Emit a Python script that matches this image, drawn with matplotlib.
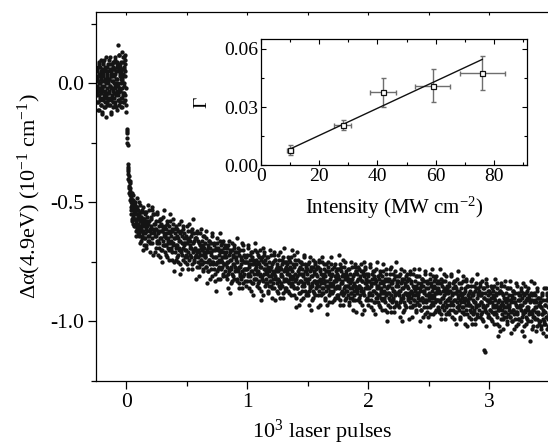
import numpy as np
import matplotlib
matplotlib.use("Agg")
import matplotlib.pyplot as plt
from matplotlib.ticker import MultipleLocator, FormatStrFormatter

plt.rcParams['font.family'] = ['Liberation Serif', 'DejaVu Serif']
plt.rcParams['mathtext.fontset'] = 'custom'
plt.rcParams['mathtext.rm'] = 'Liberation Serif'
plt.rcParams['mathtext.default'] = 'regular'
plt.rcParams['axes.unicode_minus'] = False

# ---------------------------------------------------------------
# data: absorption change vs number of pulses (10^3 pulses)
# two interleaved read-outs of the same scatter cloud
# ---------------------------------------------------------------
# before irradiation, x from -0.245 to -0.005
pre_y = [
    .02, -.05, .06, -.01, -.08, .03, -.03, .09, -.11, .00, .04, -.06, .07, -.02, -.09, .05, -.04, .01, -.13, .03,
    -.02, .08, -.07, .04, -.01, .10, -.05, .02, -.10, .06, -.03, -.14, .05, -.06, .01, .07, -.08, .03, -.04, .00,
    .05, -.09, .02, -.03, .08, -.06, .11, -.01, -.07, .04, -.12, .06, -.02, .03, -.05, .09, -.08, .01, .06, -.04,
    -.06, .03, .10, -.02, -.09, .05, .00, -.04, .07, -.11, .02, .08, -.05, .16, -.01, -.07, .12, -.03, .06, -.08,
    .04, -.03, .02, -.06, .09, .01, -.10, .06, -.02, .11, -.05, .03, -.08, .07, .00, -.04, .12, -.07, .05, -.09,
]
pre_y2 = [
    -.04, .05, -.08, .01, .07, -.02, -.11, .04, -.05, .08, .00, -.07, .03, -.03, .10, -.09, .02, -.01, .06, -.12,
    .03, -.06, .09, -.03, .01, -.10, .05, -.04, .07, -.08, .02, .11, -.05, .00, -.09, .04, -.02, .08, -.06, .01,
    -.07, .02, -.04, .10, -.01, .06, -.09, .03, -.13, .05, -.02, .08, -.06, .01, .04, -.10, .07, -.03, .00, .09,
    .06, -.01, -.08, .04, .11, -.05, .02, -.10, .07, -.03, .09, -.07, .00, .05, -.04, .12, -.02, -.09, .03, .08,
    -.03, .07, .00, -.10, .05, .13, -.06, .02, -.04, .09, -.08, .04, .11, -.01, .06, -.05, .10, .03, .08, -.02,
]
# onset of irradiation, x from 0.002 to 0.011
drop_y = [-.12, -.19, -.20, -.21, -.23, -.25, -.26]
# fast initial decay, x from 0.012 to 0.15
early_y = [
    -.34, -.37, -.36, -.41, -.39, -.44, -.42, -.47, -.45, -.50,
    -.48, -.55, -.51, -.46, -.58, -.52, -.49, -.56, -.53, -.60,
    -.50, -.57, -.54, -.62, -.52, -.59, -.55, -.48, -.61, -.56,
    -.53, -.60, -.57, -.64, -.55, -.51, -.62, -.58, -.66, -.56,
    -.61, -.54, -.59, -.65, -.57, -.63, -.52, -.60, -.68, -.58,
]
early_y2 = [
    -.35, -.40, -.38, -.43, -.46, -.41, -.49, -.44, -.52, -.47,
    -.53, -.49, -.57, -.51, -.55, -.47, -.59, -.54, -.50, -.57,
    -.55, -.60, -.51, -.58, -.64, -.53, -.57, -.60, -.52, -.63,
    -.59, -.55, -.63, -.50, -.61, -.57, -.67, -.54, -.60, -.58,
    -.56, -.64, -.60, -.53, -.70, -.58, -.62, -.57, -.65, -.55,
]
# slow decay, x from 0.15 to 3.5
slow_y = [
    -.57, -.65, -.59, -.68, -.54, -.62, -.60, -.64, -.51, -.66, -.58, -.61, -.71, -.56, -.63, -.53, -.67, -.55, -.62, -.59,
    -.64, -.59, -.69, -.61, -.66, -.55, -.72, -.63, -.58, -.67, -.62, -.65, -.57, -.70, -.60, -.75, -.61, -.68, -.53, -.64,
    -.60, -.68, -.65, -.72, -.63, -.59, -.69, -.66, -.62, -.74, -.58, -.67, -.64, -.70, -.61, -.71, -.57, -.68, -.65, -.75,
    -.71, -.65, -.60, -.68, -.73, -.64, -.75, -.62, -.69, -.66, -.80, -.63, -.70, -.58, -.72, -.67, -.61, -.74, -.65, -.68,
    -.67, -.75, -.64, -.70, -.60, -.73, -.66, -.78, -.65, -.68, -.72, -.62, -.69, -.76, -.63, -.71, -.57, -.74, -.66, -.70,
    -.69, -.72, -.65, -.77, -.63, -.73, -.66, -.81, -.71, -.68, -.76, -.61, -.74, -.70, -.72, -.64, -.78, -.69, -.75, -.67,
    -.73, -.62, -.77, -.70, -.84, -.69, -.79, -.66, -.74, -.71, -.76, -.67, -.72, -.81, -.64, -.75, -.70, -.78, -.68, -.73,
    -.83, -.73, -.76, -.65, -.79, -.69, -.78, -.72, -.75, -.66, -.82, -.70, -.74, -.77, -.67, -.71, -.80, -.73, -.76, -.68,
    -.76, -.73, -.82, -.69, -.75, -.80, -.66, -.78, -.71, -.88, -.74, -.77, -.70, -.83, -.72, -.81, -.76, -.68, -.73, -.79,
    -.78, -.74, -.82, -.65, -.79, -.71, -.84, -.77, -.70, -.80, -.76, -.73, -.86, -.74, -.81, -.68, -.78, -.72, -.83, -.75,
    -.78, -.73, -.83, -.75, -.80, -.69, -.86, -.77, -.72, -.81, -.76, -.79, -.71, -.84, -.74, -.89, -.75, -.82, -.67, -.78,
    -.82, -.76, -.71, -.79, -.84, -.75, -.86, -.73, -.80, -.77, -.91, -.74, -.81, -.69, -.83, -.78, -.72, -.85, -.76, -.79,
    -.76, -.84, -.78, -.87, -.73, -.81, -.79, -.83, -.70, -.85, -.77, -.80, -.90, -.75, -.82, -.72, -.86, -.74, -.81, -.78,
    -.79, -.87, -.76, -.82, -.72, -.85, -.78, -.90, -.77, -.80, -.84, -.74, -.81, -.88, -.75, -.83, -.69, -.86, -.78, -.82,
    -.75, -.83, -.80, -.87, -.78, -.74, -.84, -.81, -.77, -.89, -.73, -.82, -.79, -.85, -.76, -.86, -.72, -.83, -.80, -.90,
    -.82, -.71, -.86, -.79, -.93, -.78, -.88, -.75, -.83, -.80, -.85, -.76, -.81, -.90, -.73, -.84, -.79, -.87, -.77, -.82,
    -.83, -.80, -.89, -.76, -.82, -.87, -.73, -.85, -.78, -.95, -.81, -.84, -.77, -.90, -.79, -.88, -.83, -.75, -.80, -.86,
    -.81, -.84, -.77, -.89, -.75, -.85, -.78, -.93, -.83, -.80, -.88, -.73, -.86, -.82, -.84, -.76, -.90, -.81, -.87, -.79,
    -.93, -.83, -.86, -.75, -.89, -.79, -.88, -.82, -.85, -.76, -.92, -.80, -.84, -.87, -.77, -.81, -.90, -.83, -.86, -.78,
    -.85, -.81, -.89, -.72, -.86, -.78, -.91, -.84, -.77, -.87, -.83, -.80, -.93, -.81, -.88, -.75, -.85, -.79, -.90, -.82,
    -.81, -.89, -.83, -.92, -.78, -.86, -.84, -.88, -.75, -.90, -.82, -.85, -.95, -.80, -.87, -.77, -.91, -.79, -.86, -.83,
    -.88, -.82, -.77, -.85, -.90, -.81, -.92, -.79, -.86, -.83, -.97, -.80, -.87, -.75, -.89, -.84, -.78, -.91, -.82, -.85,
    -.86, -.81, -.91, -.83, -.88, -.77, -.94, -.85, -.80, -.89, -.84, -.87, -.79, -.92, -.82, -.97, -.83, -.90, -.75, -.86,
    -.81, -.89, -.86, -.93, -.84, -.80, -.90, -.87, -.83, -.95, -.79, -.88, -.85, -.91, -.82, -.92, -.78, -.89, -.86, -.96,
    -.85, -.93, -.82, -.88, -.78, -.91, -.84, -.96, -.83, -.86, -.90, -.80, -.87, -.94, -.81, -.89, -.75, -.92, -.84, -.88,
    -.88, -.85, -.94, -.81, -.87, -.92, -.78, -.90, -.83, -1.00, -.86, -.89, -.82, -.95, -.84, -.93, -.88, -.80, -.85, -.91,
    -.86, -.89, -.82, -.94, -.80, -.90, -.83, -.98, -.88, -.85, -.93, -.78, -.91, -.87, -.89, -.81, -.95, -.86, -.92, -.84,
    -.89, -.78, -.93, -.86, -1.00, -.85, -.95, -.82, -.90, -.87, -.92, -.83, -.88, -.97, -.80, -.91, -.86, -.94, -.84, -.89,
    -.98, -.88, -.91, -.80, -.94, -.84, -.93, -.87, -.90, -.81, -.97, -.85, -.89, -.92, -.82, -.86, -.95, -.88, -.91, -.83,
    -.91, -.87, -.95, -.78, -.92, -.84, -.97, -.90, -.83, -.93, -.89, -.86, -.99, -.87, -.94, -.81, -.91, -.85, -.96, -.88,
    -.90, -.85, -.95, -.87, -.92, -.81, -.98, -.89, -.84, -.93, -.88, -.91, -.83, -.96, -.86, -1.01, -.87, -.94, -.79, -.90,
    -.87, -.95, -.89, -.98, -.84, -.92, -.90, -.94, -.81, -.96, -.88, -.91, -1.01, -.86, -.93, -.83, -.97, -.85, -.92, -.89,
    -.90, -.98, -.87, -.93, -.83, -.96, -.89, -1.01, -.88, -.91, -.95, -.85, -.92, -.99, -.86, -.94, -.80, -.97, -.89, -.93,
    -.95, -.89, -.84, -.92, -.97, -.88, -.99, -.86, -.93, -.90, -1.12, -1.13, -.94, -.82, -.96, -.91, -.85, -.98, -.89, -.92,
    -.87, -.95, -.92, -.99, -.90, -.86, -.96, -.93, -.89, -1.01, -.85, -.94, -.91, -.97, -.88, -.98, -.84, -.95, -.92, -1.02,
    -.91, -.94, -.87, -.99, -.85, -.95, -.88, -1.03, -.93, -.90, -.98, -.83, -.96, -.92, -.94, -.86, -1.00, -.91, -.97, -.89,
    -.94, -.83, -.98, -.91, -1.05, -.90, -1.00, -.87, -.95, -.92, -.97, -.88, -.93, -1.02, -.85, -.96, -.91, -.99, -.89, -.94,
    -.94, -.91, -1.00, -.87, -.93, -.98, -.84, -.96, -.89, -1.06, -.92, -.95, -.88, -1.01, -.90, -.99, -.94, -.86, -.91, -.97,
    -.96, -.92, -1.00, -.83, -.97, -.89, -1.02, -.95, -.88, -.98, -.94, -.91, -1.04, -.92, -.99, -.86, -.96, -.90, -1.01, -.93,
    -.92, -1.00, -.94, -1.03, -.89, -.97, -.95, -.99, -.86, -1.01, -.93, -.96, -1.06, -.91, -.98, -.88, -1.02, -.90, -.97, -.94,
]
slow_y2 = [
    -.63, -.54, -.61, -.69, -.58, -.56, -.66, -.59, -.64, -.53, -.62, -.67, -.57, -.60, -.65, -.52, -.61, -.72, -.55, -.63,
    -.61, -.71, -.58, -.64, -.67, -.54, -.66, -.62, -.69, -.60, -.73, -.57, -.65, -.59, -.70, -.62, -.66, -.56, -.68, -.63,
    -.71, -.64, -.61, -.68, -.58, -.73, -.65, -.67, -.60, -.70, -.63, -.55, -.69, -.66, -.62, -.74, -.59, -.67, -.79, -.61,
    -.63, -.69, -.74, -.61, -.68, -.65, -.72, -.59, -.70, -.76, -.66, -.62, -.71, -.64, -.78, -.60, -.69, -.67, -.63, -.73,
    -.70, -.65, -.72, -.67, -.76, -.62, -.71, -.59, -.74, -.66, -.69, -.73, -.64, -.78, -.61, -.70, -.67, -.75, -.63, -.65,
    -.73, -.65, -.82, -.71, -.62, -.75, -.70, -.67, -.77, -.72, -.63, -.74, -.69, -.76, -.66, -.68, -.79, -.71, -.64, -.73,
    -.72, -.77, -.65, -.75, -.71, -.79, -.68, -.74, -.66, -.82, -.69, -.78, -.71, -.75, -.63, -.76, -.73, -.67, -.80, -.70,
    -.69, -.87, -.75, -.67, -.82, -.70, -.74, -.77, -.63, -.71, -.78, -.68, -.75, -.73, -.81, -.66, -.76, -.69, -.72, -.79,
    -.81, -.71, -.75, -.77, -.68, -.86, -.72, -.79, -.70, -.74, -.84, -.78, -.67, -.80, -.73, -.76, -.69, -.82, -.77, -.71,
    -.73, -.71, -.83, -.75, -.78, -.69, -.86, -.72, -.81, -.77, -.74, -.82, -.67, -.79, -.70, -.84, -.75, -.80, -.73, -.78,
    -.75, -.85, -.72, -.78, -.81, -.68, -.80, -.76, -.83, -.74, -.87, -.71, -.79, -.73, -.84, -.76, -.80, -.70, -.82, -.77,
    -.74, -.80, -.85, -.72, -.79, -.76, -.83, -.70, -.81, -.87, -.77, -.73, -.82, -.75, -.89, -.71, -.80, -.78, -.74, -.84,
    -.82, -.73, -.80, -.88, -.77, -.75, -.85, -.78, -.83, -.72, -.81, -.86, -.76, -.79, -.84, -.71, -.80, -.91, -.74, -.82,
    -.82, -.77, -.84, -.79, -.88, -.74, -.83, -.71, -.86, -.78, -.81, -.85, -.76, -.90, -.73, -.82, -.79, -.87, -.75, -.77,
    -.86, -.79, -.76, -.83, -.73, -.88, -.80, -.82, -.75, -.85, -.78, -.70, -.84, -.81, -.77, -.89, -.74, -.82, -.94, -.76,
    -.81, -.86, -.74, -.84, -.80, -.88, -.77, -.83, -.75, -.91, -.78, -.87, -.80, -.84, -.72, -.85, -.82, -.76, -.89, -.79,
    -.88, -.78, -.82, -.84, -.75, -.93, -.79, -.86, -.77, -.81, -.91, -.85, -.74, -.87, -.80, -.83, -.76, -.89, -.84, -.78,
    -.85, -.77, -.94, -.83, -.74, -.87, -.82, -.79, -.89, -.84, -.75, -.86, -.81, -.88, -.78, -.80, -.91, -.83, -.76, -.85,
    -.79, -.97, -.85, -.77, -.92, -.80, -.84, -.87, -.73, -.81, -.88, -.78, -.85, -.83, -.91, -.76, -.86, -.79, -.82, -.89,
    -.80, -.78, -.90, -.82, -.85, -.76, -.93, -.79, -.88, -.84, -.81, -.89, -.74, -.86, -.77, -.91, -.82, -.87, -.80, -.85,
    -.87, -.78, -.85, -.93, -.82, -.80, -.90, -.83, -.88, -.77, -.86, -.91, -.81, -.84, -.89, -.76, -.85, -.96, -.79, -.87,
    -.80, -.86, -.91, -.78, -.85, -.82, -.89, -.76, -.87, -.93, -.83, -.79, -.88, -.81, -.95, -.77, -.86, -.84, -.80, -.90,
    -.83, -.93, -.80, -.86, -.89, -.76, -.88, -.84, -.91, -.82, -.95, -.79, -.87, -.81, -.92, -.84, -.88, -.78, -.90, -.85,
    -.92, -.85, -.82, -.89, -.79, -.94, -.86, -.88, -.81, -.91, -.84, -.76, -.90, -.87, -.83, -.95, -.80, -.88, -1.00, -.82,
    -.88, -.83, -.90, -.85, -.94, -.80, -.89, -.77, -.92, -.84, -.87, -.91, -.82, -.96, -.79, -.88, -.85, -.93, -.81, -.83,
    -.93, -.83, -.87, -.89, -.80, -.98, -.84, -.91, -.82, -.86, -.96, -.90, -.79, -.92, -.85, -.88, -.81, -.94, -.89, -.83,
    -.90, -.82, -.99, -.88, -.79, -.92, -.87, -.84, -.94, -.89, -.80, -.91, -.86, -.93, -.83, -.85, -.96, -.88, -.81, -.90,
    -.88, -.93, -.81, -.91, -.87, -.95, -.84, -.90, -.82, -.98, -.85, -.94, -.87, -.91, -.79, -.92, -.89, -.83, -.96, -.86,
    -.84, -1.02, -.90, -.82, -.97, -.85, -.89, -.92, -.78, -.86, -.93, -.83, -.90, -.88, -.96, -.81, -.91, -.84, -.87, -.94,
    -.86, -.84, -.96, -.88, -.91, -.82, -.99, -.85, -.94, -.90, -.87, -.95, -.80, -.92, -.83, -.97, -.88, -.93, -.86, -.91,
    -.87, -.97, -.84, -.90, -.93, -.80, -.92, -.88, -.95, -.86, -.99, -.83, -.91, -.85, -.96, -.88, -.92, -.82, -.94, -.89,
    -.93, -.84, -.91, -.99, -.88, -.86, -.96, -.89, -.94, -.83, -.92, -.97, -.87, -.90, -.95, -.82, -.91, -1.02, -.85, -.93,
    -.93, -.88, -.95, -.90, -.99, -.85, -.94, -.82, -.97, -.89, -.92, -.96, -.87, -1.01, -.84, -.93, -.90, -.98, -.86, -.88,
    -.87, -.93, -.98, -.85, -.92, -.89, -.96, -.83, -.94, -1.00, -.90, -.86, -.95, -.88, -1.02, -.84, -.93, -.91, -.87, -.97,
    -.98, -.91, -.88, -.95, -.85, -1.00, -.92, -.94, -.87, -.97, -.90, -.82, -.96, -.93, -.89, -1.01, -.86, -.94, -1.06, -.88,
    -.95, -.87, -1.04, -.93, -.84, -.97, -.92, -.89, -.99, -.94, -.85, -.96, -.91, -.98, -.88, -.90, -1.01, -.93, -.86, -.95,
    -.93, -.98, -.86, -.96, -.92, -1.00, -.89, -.95, -.87, -1.03, -.90, -.99, -.92, -.96, -.84, -.97, -.94, -.88, -1.01, -.91,
    -.99, -.89, -.93, -.95, -.86, -1.04, -.90, -.97, -.88, -.92, -1.02, -.96, -.85, -.98, -.91, -.94, -.87, -1.00, -.95, -.89,
    -.90, -1.08, -.96, -.88, -1.03, -.91, -.95, -.98, -.84, -.92, -.99, -.89, -.96, -.94, -1.02, -.87, -.97, -.90, -.93, -1.00,
    -.92, -.90, -1.02, -.94, -.97, -.88, -1.05, -.91, -1.00, -.96, -.93, -1.01, -.86, -.98, -.89, -1.03, -.94, -.99, -.92, -.97,
]

# inset: fitted slope Gamma vs intensity
intensity = [10, 28, 42, 59, 76]
intensity_err = [1, 3, 4.4, 6.1, 7.7]
gamma = [0.0077, 0.0207, 0.0376, 0.0410, 0.0475]
gamma_err = [0.0025, 0.0026, 0.0074, 0.0084, 0.0087]
fit_intensity = [10, 76]
fit_gamma = [0.0084, 0.0545]

# ---------------------------------------------------------------
# plotting
# ---------------------------------------------------------------
segments = [
    (np.linspace(-0.245, -0.005, len(pre_y)), pre_y),
    (np.linspace(-0.244, -0.004, len(pre_y2)), pre_y2),
    (np.linspace(0.002, 0.011, len(drop_y)), drop_y),
    (np.linspace(0.012, 0.15, len(early_y)), early_y),
    (np.linspace(0.013, 0.151, len(early_y2)), early_y2),
    (np.linspace(0.15, 3.5, len(slow_y)), slow_y),
    (np.linspace(0.152, 3.498, len(slow_y2)), slow_y2),
]

fig = plt.figure(figsize=(5.48, 4.48), dpi=100)
ax = fig.add_axes([0.1752, 0.1496, 0.8275, 0.8237])

for xs, ys in segments:
    ax.plot(xs, ys, ls='None', marker='o', ms=3.1, mew=0, color='#141414')

ax.set_xlim(-0.25, 3.5)
ax.set_ylim(-1.25, 0.3)
ax.xaxis.set_major_locator(MultipleLocator(1))
ax.xaxis.set_minor_locator(MultipleLocator(0.5))
ax.yaxis.set_major_locator(MultipleLocator(0.5))
ax.yaxis.set_minor_locator(MultipleLocator(0.25))
ax.yaxis.set_major_formatter(FormatStrFormatter('%.1f'))
ax.spines['right'].set_visible(False)
for s in ax.spines.values():
    s.set_linewidth(0.9)
ax.tick_params(which='both', direction='out', width=0.9, labelsize=15.5, top=False, right=False)
ax.tick_params(which='major', length=5.5, pad=3)
ax.tick_params(which='minor', length=3.5)
# small inward ticks on the top spine
top = ax.secondary_xaxis('top')
top.set_xticks(np.arange(0, 3.6, 0.5))
top.tick_params(direction='in', length=2.5, width=0.8, labeltop=False)
top.spines['top'].set_visible(False)

ax.set_xlabel('10$^3$ laser pulses', fontsize=16, labelpad=4)
ax.set_ylabel('Δα(4.9eV) (10$^{-1}$ cm$^{-1}$)', fontsize=16, labelpad=5)

# inset
ins = fig.add_axes([0.4763, 0.631, 0.486, 0.2819])
ins.errorbar(intensity, gamma, xerr=intensity_err, yerr=gamma_err, ls='None',
             ecolor='#6e6e6e', elinewidth=1.0, capsize=1.8, capthick=1.0, zorder=2)
ins.plot(fit_intensity, fit_gamma, color='#111111', lw=1.0, zorder=3)
ins.plot(intensity, gamma, ls='None', marker='s', ms=3.6, mfc='white', mec='#111111', mew=0.9, zorder=4)
ins.set_xlim(0, 91.5)
ins.set_ylim(0, 0.065)
ins.xaxis.set_major_locator(MultipleLocator(20))
ins.xaxis.set_minor_locator(MultipleLocator(10))
ins.yaxis.set_major_locator(MultipleLocator(0.03))
ins.yaxis.set_minor_locator(MultipleLocator(0.015))
ins.yaxis.set_major_formatter(FormatStrFormatter('%.2f'))
for s in ins.spines.values():
    s.set_linewidth(0.9)
ins.tick_params(which='both', direction='in', top=True, right=True, width=0.8, labelsize=14, pad=2)
ins.tick_params(which='major', length=3.5)
ins.tick_params(which='minor', length=2.2)
ins.set_xlabel('Intensity (MW cm$^{-2}$)', fontsize=15, labelpad=7)
ins.set_ylabel('Γ', fontsize=14, labelpad=10)

fig.savefig('out.png', dpi=100)
